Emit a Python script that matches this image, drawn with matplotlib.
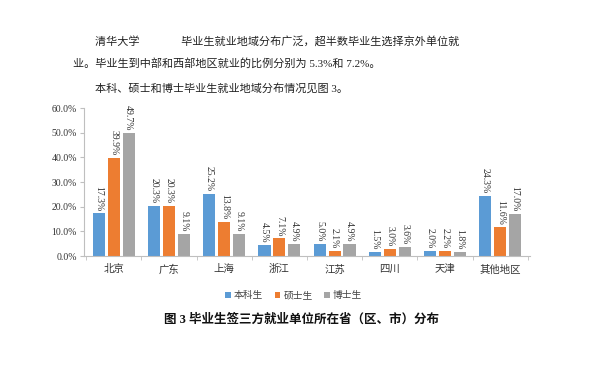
import matplotlib.pyplot as plt
import numpy as np

plt.rcParams['font.family'] = ['Liberation Serif', 'Noto Sans CJK SC']

# 数据
regions = ['北京', '广东', '上海', '浙江', '江苏', '四川', '天津', '其他地区']
undergrad = [17.3, 20.3, 25.2, 4.5, 5.0, 1.5, 2.0, 24.3]
master = [39.9, 20.3, 13.8, 7.1, 2.1, 3.0, 2.2, 11.6]
doctor = [49.7, 9.1, 9.1, 4.9, 4.9, 3.6, 1.8, 17.0]
series_names = ['本科生', '硕士生', '博士生']
colors = ['#5B9BD5', '#ED7D31', '#A5A5A5']
yticks = [0, 10, 20, 30, 40, 50, 60]

fig = plt.figure(figsize=(5.99, 3.71), dpi=100)

# 正文
txt = dict(fontsize=8, color='#222222', va='center')
fig.text(95/599, 1-41/371, '清华大学\u3000\u3000\u3000   毕业生就业地域分布广泛，超半数毕业生选择京外单位就', **txt)
fig.text(73/599, 1-63/371, '业。毕业生到中部和西部地区就业的比例分别为 5.3%和 7.2%。', **txt)
fig.text(95/599, 1-88/371, '本科、硕士和博士毕业生就业地域分布情况见图 3。', **txt)

ax = fig.add_axes([84/599, 1-256/371, 446/599, 148/371])
x = np.arange(len(regions))
w = 0.22
off = 0.27
for i, vals in enumerate([undergrad, master, doctor]):
    pos = x + (i-1)*off
    ax.bar(pos, vals, w, color=colors[i], label=series_names[i])
    for p, v in zip(pos, vals):
        ax.text(p, v + 1.0, '%.1f%%' % v, rotation=270, ha='center', va='bottom',
                fontsize=7, color='#333333')

ax.set_xlim(-0.54, 7.54)
ax.set_ylim(0, 60)
ax.set_yticks(yticks)
ax.set_yticklabels(['%.1f%%' % t for t in yticks], fontsize=7, color='#333333')
ax.set_xticks(x)
ax.set_xticklabels(regions, fontsize=7.5, color='#333333')
ax.set_xticks(np.arange(-0.5, 8, 1), minor=True)
ax.tick_params(axis='x', which='major', length=0, pad=6)
ax.tick_params(axis='x', which='minor', length=3, color='#BFBFBF')
ax.tick_params(axis='y', length=3, color='#BFBFBF', pad=2)
for s in ['top', 'right']:
    ax.spines[s].set_visible(False)
for s in ['left', 'bottom']:
    ax.spines[s].set_color('#BFBFBF')

ax.legend(loc='center', bbox_to_anchor=(0.47, -0.27), ncol=3, frameon=False,
          fontsize=7, handlelength=0.6, handleheight=0.6, handletextpad=0.3,
          columnspacing=1.2, labelcolor='#444444')

fig.text(302/599, 1-320/371, '图 3 毕业生签三方就业单位所在省（区、市）分布', ha='center', va='center',
         fontsize=9, fontweight='bold', color='#111111')

fig.savefig('out.png', dpi=100)
